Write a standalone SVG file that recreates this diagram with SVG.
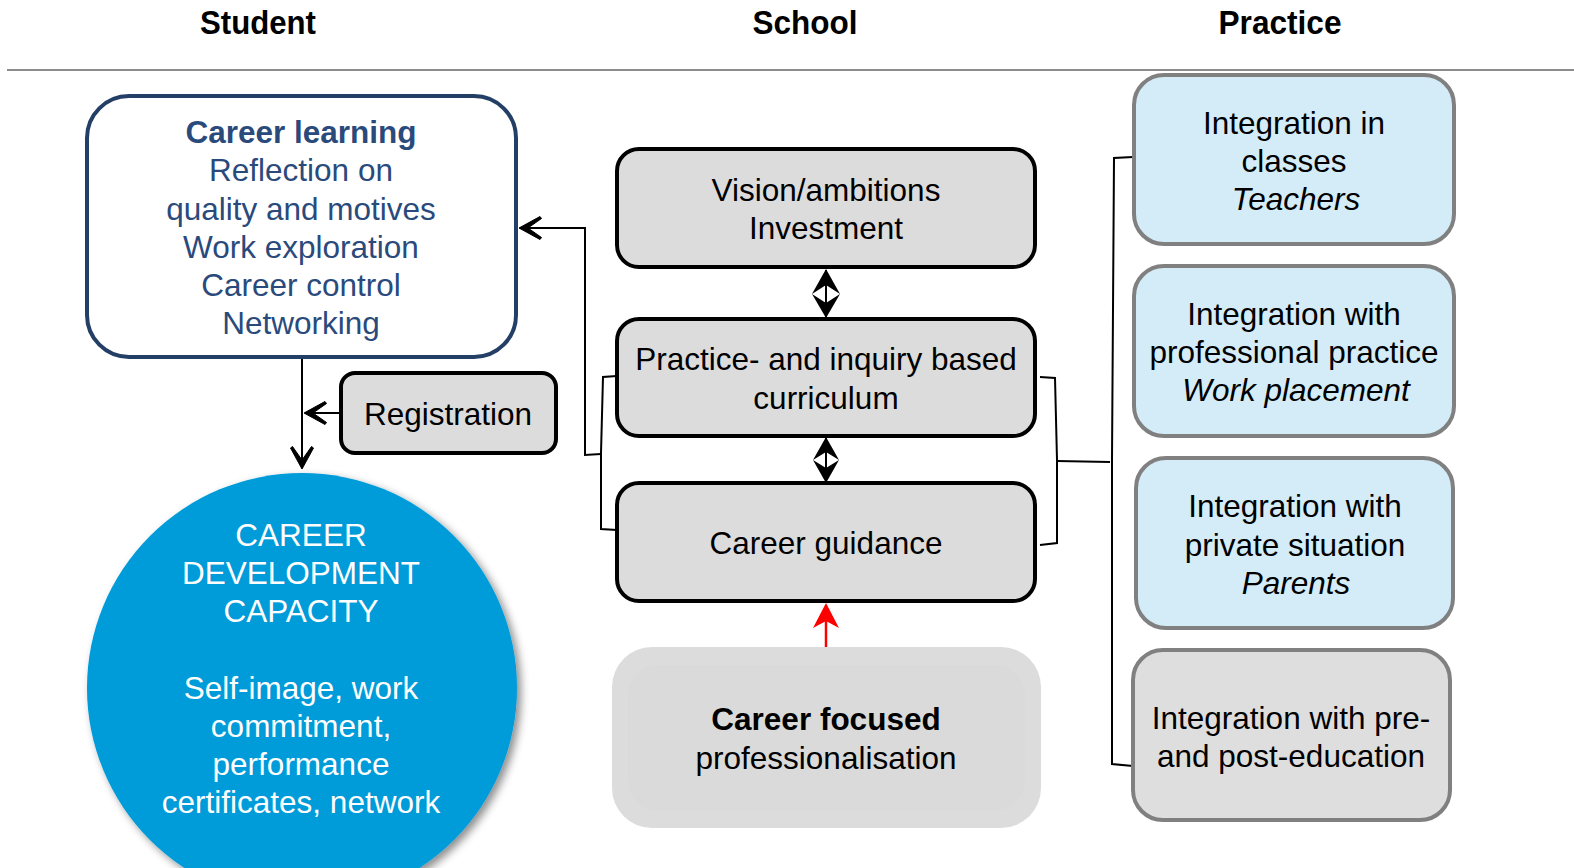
<svg xmlns="http://www.w3.org/2000/svg" width="1574" height="868" viewBox="0 0 1574 868">
  <style>
    text { font-family: "Liberation Sans", Arial, sans-serif; text-anchor: middle; }
    .hdr { font-size: 33px; font-weight: bold; fill: #000; }
    .lbl { font-size: 31.5px; fill: #000; }
    .blue { font-size: 31.5px; fill: #2a4a7c; }
    .white { font-size: 31.5px; fill: #fff; }
    .b { font-weight: bold; }
    .i { font-style: italic; }
    .school { fill: #dcdcdc; stroke: #000; stroke-width: 4; }
    .prac { fill: #d4ecf7; stroke: #808080; stroke-width: 4; }
    .grey { fill: #dedede; stroke: #808080; stroke-width: 4; }
    .wire { fill: none; stroke: #000; stroke-width: 2; }
  </style>
  <defs>
    <marker id="open" viewBox="0 0 26 26" refX="23" refY="13" markerWidth="26" markerHeight="26" markerUnits="userSpaceOnUse" orient="auto">
      <path d="M24,13 L3,1.5 L1.5,3.5 L15,13 L1.5,22.5 L3,24.5 Z" fill="#000" stroke="#000" stroke-width="1" stroke-linejoin="round"/>
    </marker>
    <filter id="shadow" x="-20%" y="-20%" width="140%" height="140%">
      <feGaussianBlur in="SourceAlpha" stdDeviation="4"/>
      <feOffset dx="4" dy="4" result="b"/>
      <feFlood flood-color="#000" flood-opacity="0.45"/>
      <feComposite in2="b" operator="in"/>
      <feMerge><feMergeNode/><feMergeNode in="SourceGraphic"/></feMerge>
    </filter>
  </defs>

  <!-- column headings -->
  <g id="headings">
    <text class="hdr" x="258" y="34" textLength="116" lengthAdjust="spacingAndGlyphs">Student</text>
    <text class="hdr" x="805" y="34" textLength="105" lengthAdjust="spacingAndGlyphs">School</text>
    <text class="hdr" x="1280" y="34" textLength="123" lengthAdjust="spacingAndGlyphs">Practice</text>
    <line x1="7" y1="70" x2="1574" y2="70" stroke="#8c8c8c" stroke-width="2"/>
  </g>

  <!-- connectors -->
  <g id="connectors">
    <!-- left brace on curriculum / guidance, feeding career learning -->
    <path class="wire" d="M617,376 L603,377 L601,453 L601,529 L617,530"/>
    <path class="wire" d="M601,454 L585,455 L585,228 L520,228" marker-end="url(#open)"/>
    <!-- right brace on curriculum / guidance -->
    <path class="wire" d="M1040,377 L1055,378 L1057,460 L1057,543 L1040,545"/>
    <path class="wire" d="M1057,461 L1110,462"/>
    <!-- practice brace -->
    <path class="wire" d="M1133,157 L1114,158 L1112,460 L1112,764 L1133,766"/>
    <!-- career learning down to capacity, registration in -->
    <path class="wire" d="M302,358 L302,468" marker-end="url(#open)"/>
    <path class="wire" d="M341,413 L305,413" marker-end="url(#open)"/>
    <!-- double arrows between school boxes -->
    <line x1="826" y1="270" x2="826" y2="317" stroke="#000" stroke-width="2"/>
    <path d="M826,269 L840,294 L826,285 L812,294 Z M826,318 L840,294 L826,303 L812,294 Z" fill="#000"/>
    <line x1="826" y1="438" x2="826" y2="482" stroke="#000" stroke-width="2"/>
    <path d="M826,437 L839,460 L826,452 L813,460 Z M826,483 L839,460 L826,468 L813,460 Z" fill="#000"/>
    <!-- professionalisation into guidance -->
    <line x1="826" y1="652" x2="826" y2="620" stroke="#ff0000" stroke-width="2.5"/>
    <path d="M826,603 L839,628 L826,621 L813,628 Z" fill="#ff0000"/>
  </g>

  <!-- student column -->
  <g id="career-learning">
    <rect x="87" y="96" width="429" height="261" rx="42" fill="#fff" stroke="#243f66" stroke-width="4"/>
    <text class="blue b" x="301" y="143">Career learning</text>
    <text class="blue" x="301" y="181">Reflection on</text>
    <text class="blue" x="301" y="220">quality and motives</text>
    <text class="blue" x="301" y="258">Work exploration</text>
    <text class="blue" x="301" y="296">Career control</text>
    <text class="blue" x="301" y="334">Networking</text>
  </g>

  <g id="registration">
    <rect x="341" y="373" width="215" height="80" rx="14" class="school"/>
    <text class="lbl" x="448" y="425">Registration</text>
  </g>

  <g id="capacity">
    <circle cx="302" cy="688" r="215" fill="#009bd9" filter="url(#shadow)"/>
    <text class="white" x="301" y="546">CAREER</text>
    <text class="white" x="301" y="584">DEVELOPMENT</text>
    <text class="white" x="301" y="622">CAPACITY</text>
    <text class="white" x="301" y="699">Self-image, work</text>
    <text class="white" x="301" y="737">commitment,</text>
    <text class="white" x="301" y="775">performance</text>
    <text class="white" x="301" y="813">certificates, network</text>
  </g>

  <!-- school column -->
  <g id="vision">
    <rect x="617" y="149" width="418" height="118" rx="22" class="school"/>
    <text class="lbl" x="826" y="201">Vision/ambitions</text>
    <text class="lbl" x="826" y="239">Investment</text>
  </g>

  <g id="curriculum">
    <rect x="617" y="319" width="418" height="117" rx="22" class="school"/>
    <text class="lbl" x="826" y="370">Practice- and inquiry based</text>
    <text class="lbl" x="826" y="409">curriculum</text>
  </g>

  <g id="guidance">
    <rect x="617" y="483" width="418" height="118" rx="22" class="school"/>
    <text class="lbl" x="826" y="554">Career guidance</text>
  </g>

  <g id="professionalisation">
    <rect x="612" y="647" width="429" height="181" rx="40" fill="#dcdcdc"/>
    <rect x="628" y="665" width="397" height="146" rx="30" fill="#dadada"/>
    <text class="lbl b" x="826" y="730">Career focused</text>
    <text class="lbl" x="826" y="769">professionalisation</text>
  </g>

  <!-- practice column -->
  <g id="classes">
    <rect x="1134" y="75" width="320" height="169" rx="30" class="prac"/>
    <text class="lbl" x="1294" y="134">Integration in</text>
    <text class="lbl" x="1294" y="172">classes</text>
    <text class="lbl i" x="1296" y="210">Teachers</text>
  </g>

  <g id="work-placement">
    <rect x="1134" y="266" width="320" height="170" rx="30" class="prac"/>
    <text class="lbl" x="1294" y="325">Integration with</text>
    <text class="lbl" x="1294" y="363">professional practice</text>
    <text class="lbl i" x="1296" y="401">Work placement</text>
  </g>

  <g id="parents">
    <rect x="1136" y="458" width="317" height="170" rx="30" class="prac"/>
    <text class="lbl" x="1295" y="517">Integration with</text>
    <text class="lbl" x="1295" y="556">private situation</text>
    <text class="lbl i" x="1296" y="594">Parents</text>
  </g>

  <g id="education">
    <rect x="1133" y="650" width="317" height="170" rx="30" class="grey"/>
    <text class="lbl" x="1291" y="729">Integration with pre-</text>
    <text class="lbl" x="1291" y="767">and post-education</text>
  </g>
</svg>
